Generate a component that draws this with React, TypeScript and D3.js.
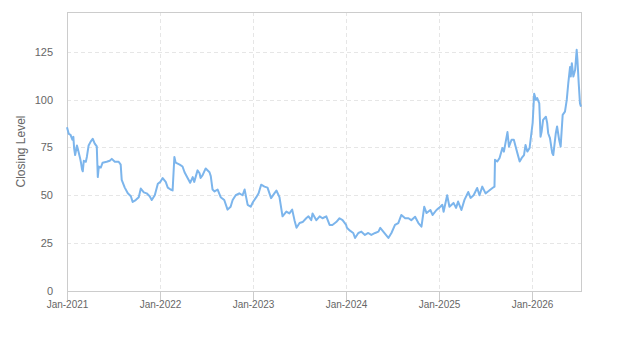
import React, { useEffect, useRef } from 'react'
import * as d3 from 'd3'

// closing levels
const dates2021 = ['2021-01-01', '2021-01-08', '2021-01-15', '2021-01-22', '2021-01-26', '2021-01-29', '2021-02-02', '2021-02-09', '2021-02-12', '2021-02-22', '2021-02-25', '2021-03-01', '2021-03-04', '2021-03-08', '2021-03-16', '2021-03-20', '2021-03-27', '2021-04-04', '2021-04-12', '2021-04-20', '2021-04-28', '2021-05-02', '2021-05-06', '2021-05-14', '2021-05-21', '2021-06-06', '2021-06-18', '2021-06-26', '2021-07-08', '2021-07-23', '2021-07-31', '2021-08-04', '2021-08-16', '2021-08-28', '2021-09-09', '2021-09-16', '2021-09-28', '2021-10-10', '2021-10-18', '2021-10-30', '2021-11-10', '2021-11-22', '2021-11-30', '2021-12-12', '2021-12-24']
const closes2021 = [85.5, 82, 81.5, 79, 80.5, 74.5, 71, 76, 74.5, 69, 67, 63.5, 62.5, 68, 67.5, 70, 76, 78, 79.5, 77, 75.5, 59.5, 65, 64.5, 67, 67.5, 68, 69, 67.5, 67.5, 66, 58, 54, 51, 49.5, 46.5, 47.5, 49, 53.5, 51.5, 51, 49.5, 47.5, 50, 56]

const dates2022 = ['2022-01-03', '2022-01-12', '2022-01-24', '2022-02-01', '2022-02-12', '2022-02-20', '2022-02-27', '2022-03-04', '2022-03-20', '2022-03-31', '2022-04-08', '2022-04-20', '2022-04-30', '2022-05-10', '2022-05-16', '2022-05-29', '2022-06-06', '2022-06-10', '2022-06-18', '2022-06-30', '2022-07-15', '2022-07-20', '2022-07-27', '2022-08-04', '2022-08-16', '2022-08-28', '2022-09-11', '2022-09-24', '2022-10-06', '2022-10-14', '2022-10-26', '2022-11-09', '2022-11-22', '2022-11-30', '2022-12-12', '2022-12-24']
const closes2022 = [57, 59, 57, 54, 53, 52.5, 70, 67, 66, 65, 62, 59, 56.5, 59.5, 57, 63, 61.5, 59, 60.5, 64, 62, 60, 53, 52, 53, 49, 47.5, 42.5, 44, 47.5, 50, 51, 50, 53, 45, 44]

const dates2023 = ['2023-01-02', '2023-01-15', '2023-01-24', '2023-02-03', '2023-02-16', '2023-02-28', '2023-03-14', '2023-03-27', '2023-04-04', '2023-04-16', '2023-04-28', '2023-05-13', '2023-05-25', '2023-06-05', '2023-06-14', '2023-06-22', '2023-07-04', '2023-07-16', '2023-07-30', '2023-08-08', '2023-08-19', '2023-08-24', '2023-09-08', '2023-09-21', '2023-10-02', '2023-10-17', '2023-10-30', '2023-11-10', '2023-11-25', '2023-12-08', '2023-12-20']
const closes2023 = [46.5, 49, 51, 55.5, 54.5, 54, 48.5, 51, 52.5, 49, 39, 41.5, 40.5, 42.5, 37, 33, 35.5, 36, 38, 39, 37, 40.5, 37, 39, 38, 39, 34.5, 34.5, 36, 38, 37]

const dates2024 = ['2024-01-03', '2024-01-06', '2024-01-18', '2024-01-31', '2024-02-07', '2024-02-20', '2024-03-03', '2024-03-17', '2024-03-30', '2024-04-11', '2024-04-26', '2024-05-09', '2024-05-16', '2024-05-28', '2024-06-17', '2024-06-29', '2024-07-13', '2024-07-26', '2024-08-07', '2024-08-22', '2024-09-04', '2024-09-15', '2024-09-30', '2024-10-13', '2024-10-25', '2024-11-05', '2024-11-14', '2024-11-29', '2024-12-08', '2024-12-23']
const closes2024 = [34.5, 33, 31.5, 30.3, 27.7, 30.3, 31, 29.3, 30.3, 29.3, 30.3, 31, 33, 31, 27.7, 30.3, 34.5, 35.5, 39.7, 38, 38, 37, 38.8, 35.5, 33.6, 44, 40.7, 42.3, 39.7, 42.3]

const dates2025 = ['2025-01-02', '2025-01-15', '2025-01-20', '2025-02-03', '2025-02-12', '2025-02-28', '2025-03-10', '2025-03-18', '2025-03-31', '2025-04-12', '2025-04-27', '2025-05-06', '2025-05-18', '2025-06-01', '2025-06-10', '2025-06-21', '2025-07-04', '2025-07-16', '2025-07-31', '2025-08-08', '2025-08-10', '2025-08-19', '2025-08-28', '2025-09-08', '2025-09-14', '2025-09-28', '2025-10-04', '2025-10-14', '2025-10-23', '2025-10-30', '2025-11-06', '2025-11-15', '2025-11-23', '2025-12-02', '2025-12-08', '2025-12-15', '2025-12-24']
const closes2025 = [43.4, 45, 41.4, 50, 44, 46, 43.4, 46.7, 42.3, 47.6, 51.7, 48.6, 50, 53.8, 50, 54.5, 51, 52.2, 53.8, 54.5, 68.5, 67.6, 69.5, 74.7, 72.8, 83, 75.4, 79, 79, 75.4, 72, 67.6, 69.5, 71, 76.3, 72.8, 74.7]

const dates2026 = ['2026-01-05', '2026-01-11', '2026-01-18', '2026-01-23', '2026-01-31', '2026-02-05', '2026-02-09', '2026-02-15', '2026-02-26', '2026-03-03', '2026-03-07', '2026-03-14', '2026-03-23', '2026-03-27', '2026-04-06', '2026-04-11', '2026-04-19', '2026-04-25', '2026-05-03', '2026-05-12', '2026-05-19', '2026-05-25', '2026-06-01', '2026-06-04', '2026-06-08', '2026-06-14', '2026-06-21', '2026-06-27', '2026-06-30', '2026-07-05', '2026-07-10', '2026-07-14']
const closes2026 = [87.8, 103, 99.8, 100.7, 98, 80.6, 83, 89.4, 91, 87.8, 82.4, 79.8, 72, 71, 82.4, 85.9, 79, 75.4, 92, 93.7, 99.8, 108.5, 117, 112, 119, 112, 115.5, 126, 120.7, 108.5, 98, 96.3]

const yTicks = [0, 25, 50, 75, 100, 125]
const xTicks = ['2021-01-01', '2022-01-01', '2023-01-01', '2024-01-01', '2025-01-01', '2026-01-01']
const yTitle = 'Closing Level'

const W = 623, H = 350
const margin = { top: 12, right: 42, bottom: 59, left: 67 }
const font = '"Liberation Sans", Arial, sans-serif'

export default function App() {
  const ref = useRef<SVGSVGElement>(null)

  useEffect(() => {
    const parse = d3.timeParse('%Y-%m-%d')
    const dates = [...dates2021, ...dates2022, ...dates2023, ...dates2024, ...dates2025, ...dates2026]
    const closes = [...closes2021, ...closes2022, ...closes2023, ...closes2024, ...closes2025, ...closes2026]
    const data = dates.map((d, i) => ({ date: parse(d) as Date, value: closes[i] }))

    const svg = d3.select(ref.current)
    svg.selectAll('*').remove()

    const x = d3.scaleTime()
      .domain(d3.extent(data, d => d.date) as [Date, Date])
      .range([margin.left, W - margin.right])
    const y = d3.scaleLinear()
      .domain([0, 145.7])
      .range([H - margin.bottom, margin.top])

    const x0 = margin.left, x1 = W - margin.right
    const y0 = H - margin.bottom, y1 = margin.top

    // grid
    svg.append('g').selectAll('line')
      .data(yTicks.filter(t => t > 0))
      .enter().append('line')
      .attr('x1', x0).attr('x2', x1)
      .attr('y1', d => Math.round(y(d)) + 0.5).attr('y2', d => Math.round(y(d)) + 0.5)
      .attr('stroke', '#e6e6e6').attr('stroke-dasharray', '4,3')

    svg.append('g').selectAll('line')
      .data(xTicks.slice(1))
      .enter().append('line')
      .attr('x1', d => Math.round(x(parse(d) as Date)) + 0.5).attr('x2', d => Math.round(x(parse(d) as Date)) + 0.5)
      .attr('y1', y1).attr('y2', y0)
      .attr('stroke', '#e6e6e6').attr('stroke-dasharray', '4,3')

    // plot border
    svg.append('rect')
      .attr('x', x0 + 0.5).attr('y', y1 + 0.5)
      .attr('width', x1 - x0).attr('height', y0 - y1)
      .attr('fill', 'none').attr('stroke', '#cccccc')

    // x ticks + labels
    let xg = svg.append('g').selectAll('g')
      .data(xTicks)
      .enter().append('g')
      .attr('transform', d => `translate(${Math.round(x(parse(d) as Date)) + 0.5},${y0})`)
    xg.append('line').attr('y1', 0).attr('y2', 9).attr('stroke', '#cccccc')
    xg.append('text')
      .attr('y', 17).attr('text-anchor', 'middle')
      .style('font-family', font).style('font-size', '10px').attr('fill', '#666666')
      .text(d => d3.timeFormat('%b-%Y')(parse(d) as Date))

    // y labels
    svg.append('g').selectAll('text')
      .data(yTicks)
      .enter().append('text')
      .attr('x', 53).attr('y', d => y(d) + 4)
      .attr('text-anchor', 'end')
      .style('font-family', font).style('font-size', '11px').attr('fill', '#666666')
      .text(d => d)

    svg.append('text')
      .attr('transform', `translate(25,${(y0 + y1) / 2}) rotate(-90)`)
      .attr('text-anchor', 'middle')
      .style('font-family', font).style('font-size', '12px').attr('fill', '#666666')
      .text(yTitle)

    const line = d3.line<{ date: Date; value: number }>()
      .x(d => x(d.date))
      .y(d => y(d.value))

    svg.append('path')
      .datum(data)
      .attr('d', line)
      .attr('fill', 'none')
      .attr('stroke', '#7cb5ec')
      .attr('stroke-width', 2)
      .attr('stroke-linejoin', 'round')
  }, [])

  return (
    <svg ref={ref} width={W} height={H}
      style={{ position: 'absolute', left: 0, top: 0, background: '#fff' }} />
  )
}
